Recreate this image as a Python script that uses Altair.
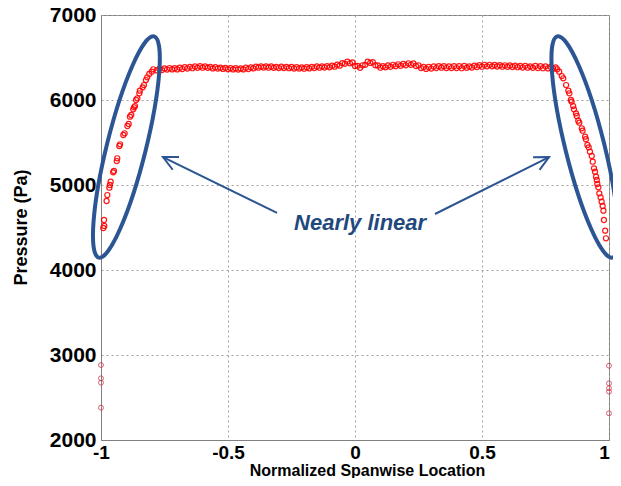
import altair as alt
import pandas as pd

# ---------------- data ----------------
# plateau: spanwise locations -0.78 ... 0.79 (step 0.01)
plateau_start = -0.78
plateau_step = 0.01
plateau_p = [
    6348, 6366, 6352, 6372, 6358, 6376, 6360, 6374,
    6360, 6380, 6364, 6386, 6370, 6390, 6374, 6394, 6378, 6398,
    6380, 6394, 6378, 6390, 6372, 6386, 6370, 6380, 6366, 6378,
    6362, 6376, 6360, 6374, 6358, 6372, 6360, 6380, 6364, 6384,
    6372, 6392, 6380, 6394, 6382, 6396, 6380, 6394, 6378, 6390,
    6376, 6392, 6376, 6390, 6374, 6388, 6370, 6386, 6370, 6384,
    6368, 6386, 6372, 6390, 6376, 6394, 6380, 6396, 6382, 6398,
    6384, 6404, 6392, 6416, 6404, 6434, 6426, 6452, 6432, 6442,
    6400, 6402, 6378, 6408, 6414, 6452, 6436, 6446, 6408, 6406,
    6380, 6398, 6384, 6406, 6390, 6414, 6398, 6420, 6402, 6424,
    6408, 6432, 6414, 6430, 6400, 6408, 6376, 6388, 6366, 6388,
    6370, 6394, 6376, 6398, 6380, 6398, 6376, 6394, 6376, 6398,
    6376, 6398, 6374, 6400, 6378, 6396, 6382, 6404, 6388, 6410,
    6392, 6414, 6396, 6414, 6396, 6412, 6394, 6410, 6392, 6408,
    6390, 6406, 6388, 6404, 6386, 6400, 6382, 6402, 6380, 6396,
    6378, 6400, 6376, 6398, 6374, 6396, 6372, 6390, 6368, 6384,
]

left_ramp_x = [-0.991, -0.987, -0.988, -0.978, -0.975, -0.967, -0.965, -0.962,
               -0.952, -0.949, -0.938, -0.936, -0.928, -0.925, -0.912, -0.907,
               -0.896, -0.891, -0.886, -0.881, -0.873, -0.870, -0.866, -0.862,
               -0.857, -0.849, -0.847, -0.836, -0.831, -0.823, -0.818, -0.810,
               -0.800, -0.794]
left_ramp_p = [4494, 4518, 4588, 4812, 4882, 4968, 5000, 5039,
               5149, 5165, 5282, 5314, 5459, 5479, 5588, 5608,
               5694, 5718, 5804, 5824, 5890, 5914, 5929, 6000,
               6020, 6079, 6110, 6149, 6176, 6235, 6267, 6306,
               6333, 6361]

right_ramp_x = [0.796, 0.804, 0.814, 0.820, 0.831, 0.840, 0.844, 0.850,
                0.853, 0.859, 0.862, 0.870, 0.873, 0.879, 0.883, 0.893,
                0.896, 0.906, 0.909, 0.915, 0.920, 0.925, 0.932, 0.936,
                0.941, 0.945, 0.949, 0.952, 0.954, 0.958, 0.962, 0.967,
                0.971, 0.975, 0.978, 0.980, 0.985, 0.988]
right_ramp_p = [6361, 6333, 6282, 6255, 6176, 6110, 6079, 6000,
                5980, 5929, 5890, 5843, 5812, 5757, 5733, 5667,
                5639, 5569, 5538, 5471, 5443, 5392, 5341, 5274,
                5196, 5157, 5098, 5059, 5012, 4973, 4902, 4855,
                4804, 4753, 4698, 4588, 4463, 4373]

tip_left_x = [-1, -1, -1, -1]
tip_left_p = [2882, 2726, 2674, 2380]
tip_right_x = [1, 1, 1, 1, 1]
tip_right_p = [2874, 2667, 2608, 2569, 2314]

x_ticks = [-1, -0.5, 0, 0.5, 1]
y_ticks = [2000, 3000, 4000, 5000, 6000, 7000]

# annotations (data coordinates)
note_text = ["Nearly linear"]
note_x = [0.02]
note_p = [4553]
ellipse_x = [-0.90, 0.905]
ellipse_p = [5447, 5447]
ellipse_ang = [14, 346]
arrow_x0 = [-0.307, 0.315]
arrow_p0 = [4671, 4659]
arrow_x1 = [-0.756, 0.764]
arrow_p1 = [5329, 5329]
arrow_ang = [296, 63]

# ---------------- tables ----------------
plateau_x = [round(plateau_start + plateau_step * i, 3) for i in range(len(plateau_p))]
main_df = pd.DataFrame({
    "x": left_ramp_x + plateau_x + right_ramp_x,
    "y": left_ramp_p + plateau_p + right_ramp_p,
})
tip_df = pd.DataFrame({"x": tip_left_x + tip_right_x, "y": tip_left_p + tip_right_p})
ell_df = pd.DataFrame({"x": ellipse_x, "y": ellipse_p, "ang": ellipse_ang})
arr_df = pd.DataFrame({"x": arrow_x0, "y": arrow_p0, "x2": arrow_x1, "y2": arrow_p1})
head_df = pd.DataFrame({"x": arrow_x1, "y": arrow_p1, "ang": arrow_ang})
txt_df = pd.DataFrame({"x": note_x, "y": note_p, "t": note_text})

FONT = "Liberation Sans"
RED = "#ff0000"
BLUE = "#2b5593"

xs = alt.Scale(domain=[-1, 1], nice=False, zero=False)
ys = alt.Scale(domain=[2000, 7000], nice=False, zero=False)

x_axis = alt.Axis(values=x_ticks, title="Normalized Spanwise Location",
                  labelExpr="datum.value + ''", labelFlush=False,
                  labelOffset={"condition": {"test": "datum.value == 1", "value": -5},
                               "value": 0},
                  labelFontSize=19, labelFontWeight="bold", labelPadding=3,
                  titleFontSize=16, titleFontWeight="bold",
                  titleX=266, titleY=35, titleBaseline="alphabetic",
                  ticks=False, grid=True)
y_axis = alt.Axis(values=y_ticks, title="Pressure (Pa)", format="d",
                  labelFontSize=21, labelFontWeight="bold", labelPadding=5,
                  titleFontSize=18, titleFontWeight="bold",
                  titleX=-75, titleY=212, titleAngle=270,
                  titleBaseline="alphabetic", titleAlign="center",
                  ticks=False, grid=True)

main = alt.Chart(main_df).mark_point(
    shape="circle", filled=False, color=RED, size=26, strokeWidth=1.2, opacity=0.9
).encode(
    x=alt.X("x:Q", scale=xs, axis=x_axis),
    y=alt.Y("y:Q", scale=ys, axis=y_axis),
)

tips = alt.Chart(tip_df).mark_point(
    shape="circle", filled=False, color="#d03848", size=24, strokeWidth=1, opacity=0.8
).encode(x=alt.X("x:Q", scale=xs), y=alt.Y("y:Q", scale=ys))

ellipse_path = ("M 0 -1 C 0.0944 -1 0.171 -0.5523 0.171 0 "
                "C 0.171 0.5523 0.0944 1 0 1 "
                "C -0.0944 1 -0.171 0.5523 -0.171 0 "
                "C -0.171 -0.5523 -0.0944 -1 0 -1 Z")
ellipses = alt.Chart(ell_df).mark_point(
    shape=ellipse_path, filled=False, color=BLUE, size=51984, strokeWidth=4, opacity=1
).encode(
    x=alt.X("x:Q", scale=xs), y=alt.Y("y:Q", scale=ys),
    angle=alt.Angle("ang:Q", scale=None),
)

arrows = alt.Chart(arr_df).mark_rule(color=BLUE, strokeWidth=2).encode(
    x=alt.X("x:Q", scale=xs), y=alt.Y("y:Q", scale=ys),
    x2="x2:Q", y2="y2:Q",
)

heads = alt.Chart(head_df).mark_point(
    shape="M -0.5 1 L 0 0 L 0.5 1", filled=False, color=BLUE, size=820,
    strokeWidth=2, opacity=1
).encode(
    x=alt.X("x:Q", scale=xs), y=alt.Y("y:Q", scale=ys),
    angle=alt.Angle("ang:Q", scale=None),
)

text = alt.Chart(txt_df).mark_text(
    font=FONT, fontSize=22, fontWeight="bold", fontStyle="italic",
    color="#1f497d", align="center", baseline="middle"
).encode(x=alt.X("x:Q", scale=xs), y=alt.Y("y:Q", scale=ys), text="t:N")

chart = alt.layer(main, tips, ellipses, arrows, heads, text).properties(
    width=508, height=425,
    autosize=alt.AutoSizeParams(type="none"),
    padding={"left": 93, "top": 7, "right": 4, "bottom": 38},
).configure(
    font=FONT,
).configure_view(
    stroke="#808080", strokeWidth=1,
).configure_axis(
    domainColor="#808080", labelColor="#000000", titleColor="#000000",
    gridColor="#a0a0a0", gridDash=[2, 3], gridWidth=1,
    labelFont=FONT, titleFont=FONT,
)

chart.save("out.html", embed_options={"renderer": "svg", "actions": False})
